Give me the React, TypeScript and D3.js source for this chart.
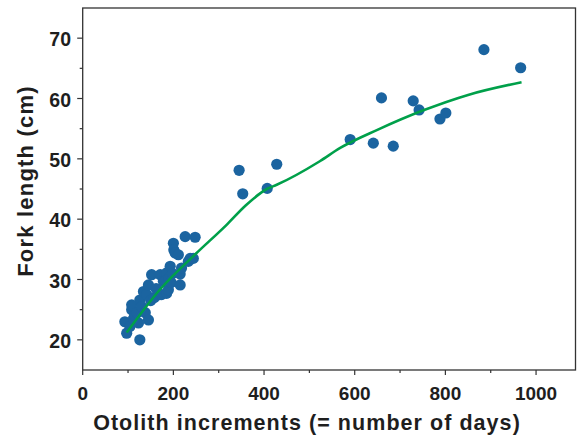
import React, { useEffect, useRef } from 'react';
import * as d3 from 'd3';

// otolith increments (days) and fork length (cm)
const days = [
  93, 97, 104, 108, 108, 112, 115, 120, 123, 126, 126, 130, 134, 138, 141, 145, 145,
  150, 152, 158, 162, 170, 171, 174, 178, 182, 185, 185, 189, 190, 193, 195, 198,
  200, 201, 204, 211, 215, 215, 218, 226, 233, 237, 244, 248,
  345, 353, 407, 428, 590, 641, 659, 685, 729, 742, 788, 801, 885, 966,
];
const forkLength = [
  23.0, 21.1, 22.2, 25.0, 25.8, 23.5, 24.0, 24.5, 22.8, 20.0, 26.6, 25.5, 28.0, 24.5, 27.5, 23.3, 29.1,
  26.5, 30.8, 27.0, 28.5, 27.5, 30.8, 27.5, 29.7, 29.7, 27.7, 31.1, 28.3, 30.2, 32.2, 29.5, 31.0,
  36.0, 34.9, 34.4, 34.1, 30.9, 29.1, 31.9, 37.1, 33.0, 33.5, 33.5, 37.0,
  48.1, 44.2, 45.1, 49.1, 53.2, 52.6, 60.1, 52.1, 59.6, 58.1, 56.6, 57.6, 68.1, 65.1,
];

// fitted growth curve
const curveDays = [97, 170, 250, 318, 360, 406, 428, 523, 568, 650, 750, 850, 968];
const curveLength = [21.2, 28.3, 34.3, 39.1, 42.3, 45.0, 45.7, 49.6, 51.8, 54.8, 58.0, 60.6, 62.7];

const xTicks = [0, 200, 400, 600, 800, 1000];
const yTicks = [20, 30, 40, 50, 60, 70];

const App: React.FC = () => {
  const ref = useRef<SVGSVGElement>(null);

  useEffect(() => {
    if (!ref.current) return;
    const svg = d3.select(ref.current);
    svg.selectAll('*').remove();

    const left = 82.7, right = 575.5, top = 8, bottom = 370;
    const font = "'Liberation Sans', Arial, sans-serif";

    const x = d3.scaleLinear().domain([0, 1087]).range([left, right]);
    const y = d3.scaleLinear().domain([15, 75]).range([bottom, top]);

    // frame
    svg.append('rect')
      .attr('x', left).attr('y', top)
      .attr('width', right - left).attr('height', bottom - top)
      .attr('fill', 'none').attr('stroke', '#333').attr('stroke-width', 1.3);

    // x ticks
    d3.range(0, 1001, 100).forEach(v => {
      const major = v % 200 === 0;
      svg.append('line')
        .attr('x1', x(v)).attr('x2', x(v))
        .attr('y1', bottom).attr('y2', bottom + (major ? 5 : 3))
        .attr('stroke', '#333').attr('stroke-width', 1.2);
    });
    xTicks.forEach(v => {
      svg.append('text')
        .attr('x', x(v)).attr('y', 400)
        .attr('text-anchor', 'middle')
        .attr('font-family', font).attr('font-weight', 'bold').attr('font-size', 19)
        .attr('fill', '#1e1e1e')
        .text(v);
    });

    // y ticks
    d3.range(20, 71, 5).forEach(v => {
      const major = v % 10 === 0;
      svg.append('line')
        .attr('x1', left - (major ? 5.5 : 3)).attr('x2', left)
        .attr('y1', y(v)).attr('y2', y(v))
        .attr('stroke', '#333').attr('stroke-width', 1.2);
    });
    yTicks.forEach(v => {
      svg.append('text')
        .attr('x', 71).attr('y', y(v) + 8)
        .attr('text-anchor', 'end')
        .attr('font-family', font).attr('font-weight', 'bold').attr('font-size', 19.5)
        .attr('fill', '#1e1e1e')
        .text(v);
    });

    // axis titles
    svg.append('text')
      .attr('x', 307).attr('y', 430)
      .attr('text-anchor', 'middle')
      .attr('font-family', font).attr('font-weight', 'bold').attr('font-size', 21.5)
      .attr('letter-spacing', 1.05)
      .attr('fill', '#1e1e1e')
      .text('Otolith increments (= number of days)');
    svg.append('text')
      .attr('transform', 'translate(32.5, 181) rotate(-90)')
      .attr('text-anchor', 'middle')
      .attr('font-family', font).attr('font-weight', 'bold').attr('font-size', 22)
      .attr('letter-spacing', 1.2)
      .attr('fill', '#1e1e1e')
      .text('Fork length (cm)');

    // points
    svg.append('g')
      .selectAll('circle')
      .data(days.map((d, i) => [d, forkLength[i]]))
      .enter()
      .append('circle')
      .attr('cx', d => x(d[0]))
      .attr('cy', d => y(d[1]))
      .attr('r', 5.6)
      .attr('fill', '#1b64a0');

    // growth curve
    const line = d3.line<number>()
      .x((_, i) => x(curveDays[i]))
      .y(d => y(d))
      .curve(d3.curveMonotoneX);
    svg.append('path')
      .attr('d', line(curveLength) as string)
      .attr('fill', 'none')
      .attr('stroke', '#00a04a')
      .attr('stroke-width', 2.6);
  }, []);

  return (
    <svg
      ref={ref}
      width={578}
      height={437}
      style={{ position: 'absolute', left: 0, top: 0, background: '#fff' }}
    />
  );
};

export default App;
